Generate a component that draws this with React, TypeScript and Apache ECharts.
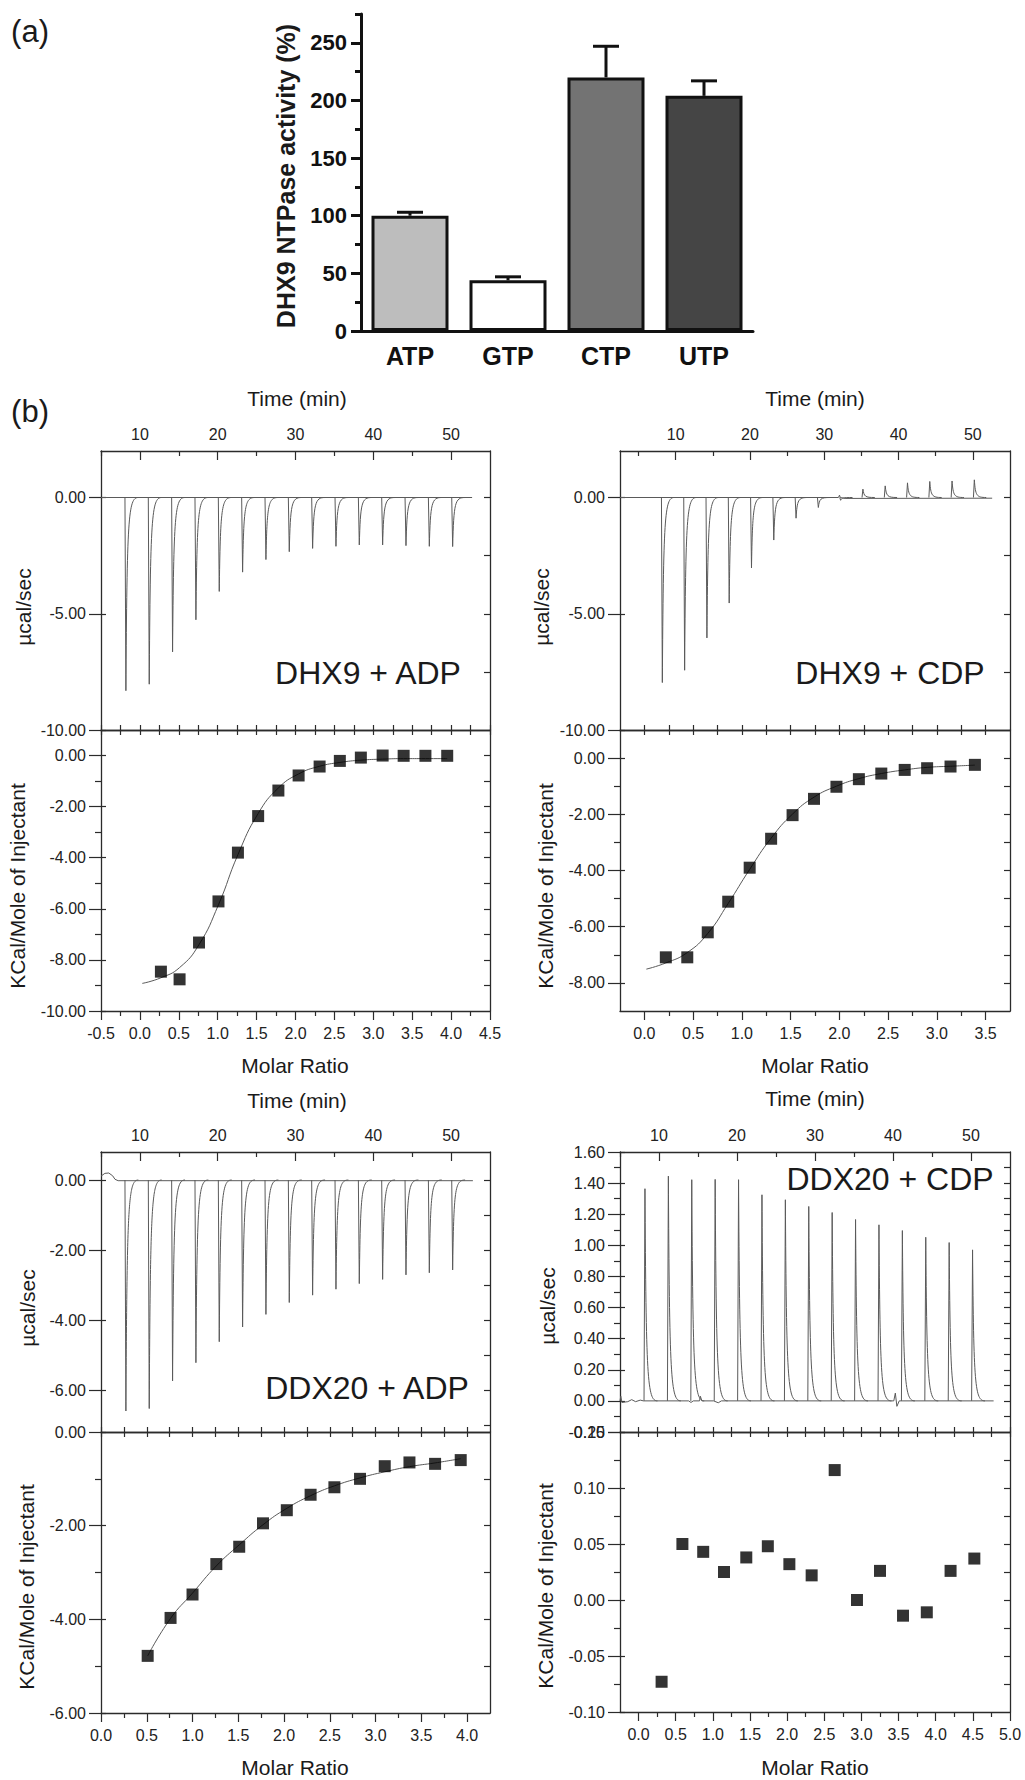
import React, { useEffect, useRef } from 'react';
import * as echarts from 'echarts';

// ---------- (a) DHX9 NTPase activity ----------
const ntpCategories = ['ATP', 'GTP', 'CTP', 'UTP'];
const ntpActivity = [100, 44, 220, 204];
const ntpErrorTop = [103, 47, 247, 217];
const ntpTickLabels = [0, 50, 100, 150, 200, 250];
const ntpMinorTicks = [25, 75, 125, 175, 225, 275];
const ntpBarColors = ['#bdbdbd', '#ffffff', '#737373', '#454545'];

// ---------- (b) ITC ----------
const injectionTimes = [8.2, 11.2, 14.2, 17.2, 20.2, 23.2, 26.2, 29.2, 32.2, 35.2, 38.2, 41.2, 44.2, 47.2, 50.2];
const timeTickLabels = [10, 20, 30, 40, 50];
const timeMinorTicks = [5, 15, 25, 35, 45];

// DHX9 + ADP
const dhx9AdpPeaks = [-8.31, -8.03, -6.64, -5.26, -4.04, -3.21, -2.67, -2.33, -2.19, -2.1, -2.04, -2.04, -2.07, -2.1, -2.11];
const dhx9AdpBaseline = [[5, 0], [52.7, 0]];
const dhx9AdpRatio = [0.27, 0.51, 0.76, 1.01, 1.26, 1.52, 1.78, 2.04, 2.31, 2.57, 2.84, 3.12, 3.39, 3.67, 3.95];
const dhx9AdpHeat = [-8.46, -8.76, -7.32, -5.71, -3.8, -2.37, -1.37, -0.78, -0.43, -0.21, -0.08, 0.0, -0.01, -0.01, -0.01];
const dhx9AdpFitRatio = [0.03, 0.27, 0.51, 0.76, 1.01, 1.26, 1.52, 1.78, 2.04, 2.31, 2.57, 2.84, 3.12, 3.39, 3.67, 3.95];
const dhx9AdpFitHeat = [-8.92, -8.7, -8.3, -7.4, -5.84, -3.88, -2.27, -1.27, -0.72, -0.42, -0.27, -0.18, -0.14, -0.12, -0.12, -0.12];
const dhx9AdpRatioLabels = [-0.5, 0, 0.5, 1, 1.5, 2, 2.5, 3, 3.5, 4, 4.5];
const dhx9AdpRatioMinor = [-0.25, 0.25, 0.75, 1.25, 1.75, 2.25, 2.75, 3.25, 3.75, 4.25];
const dhx9AdpUpperLabels = [0, -5, -10];
const dhx9AdpUpperRight = [0, -2.5, -5, -7.5];
const dhx9AdpLowerLabels = [0, -2, -4, -6, -8, -10];
const dhx9AdpLowerMinor = [-1, -3, -5, -7, -9];
const dhx9AdpLowerRight = [0, -1, -2, -3, -4, -5, -6, -7, -8, -9];

// DHX9 + CDP
const dhx9CdpPeaks = [-7.96, -7.43, -6.04, -4.54, -3.03, -1.83, -0.89, -0.43, -0.12, 0.36, 0.5, 0.63, 0.69, 0.71, 0.76];
const dhx9CdpBaseline = [[2.5, 0], [31.9, 0], [32.05, 0.1], [32.15, 0], [32.8, -0.04], [52.6, -0.03]];
const dhx9CdpRatio = [0.22, 0.44, 0.65, 0.86, 1.08, 1.3, 1.52, 1.74, 1.97, 2.2, 2.43, 2.67, 2.9, 3.14, 3.39];
const dhx9CdpHeat = [-7.09, -7.09, -6.2, -5.11, -3.9, -2.87, -2.03, -1.45, -1.02, -0.75, -0.55, -0.42, -0.36, -0.3, -0.24];
const dhx9CdpFitRatio = [0.02, 0.22, 0.44, 0.65, 0.86, 1.08, 1.3, 1.52, 1.74, 1.97, 2.2, 2.43, 2.67, 2.9, 3.14, 3.39];
const dhx9CdpFitHeat = [-7.51, -7.29, -6.92, -6.24, -5.17, -3.96, -2.85, -1.99, -1.39, -1.0, -0.73, -0.55, -0.42, -0.33, -0.29, -0.25];
const dhx9CdpRatioLabels = [0, 0.5, 1, 1.5, 2, 2.5, 3, 3.5];
const dhx9CdpRatioMinor = [0.25, 0.75, 1.25, 1.75, 2.25, 2.75, 3.25];
const dhx9CdpUpperLabels = [0, -5, -10];
const dhx9CdpUpperRight = [0, -2.5, -5, -7.5];
const dhx9CdpLowerLabels = [0, -2, -4, -6, -8];
const dhx9CdpLowerMinor = [-1, -3, -5, -7];
const dhx9CdpLowerRight = [0, -1, -2, -3, -4, -5, -6, -7, -8];

// DDX20 + ADP
const ddx20AdpPeaks = [-6.6, -6.53, -5.74, -5.22, -4.62, -4.2, -3.84, -3.5, -3.29, -3.12, -2.96, -2.84, -2.71, -2.65, -2.57];
const ddx20AdpBaseline = [[5, 0.11], [5.5, 0.19], [6.0, 0.2], [6.5, 0.12], [6.8, 0.02], [7.2, -0.02], [52.8, -0.02]];
const ddx20AdpRatio = [0.51, 0.76, 1.0, 1.26, 1.51, 1.77, 2.03, 2.29, 2.55, 2.83, 3.1, 3.37, 3.65, 3.93];
const ddx20AdpHeat = [-4.78, -3.97, -3.47, -2.82, -2.45, -1.95, -1.67, -1.34, -1.18, -1.0, -0.73, -0.65, -0.68, -0.6];
const ddx20AdpFitRatio = [0.51, 0.76, 1.0, 1.26, 1.51, 1.77, 2.03, 2.29, 2.55, 2.83, 3.1, 3.37, 3.65, 3.93];
const ddx20AdpFitHeat = [-4.78, -3.98, -3.44, -2.86, -2.41, -1.98, -1.63, -1.36, -1.15, -0.98, -0.85, -0.74, -0.66, -0.57];
const ddx20AdpRatioLabels = [0, 0.5, 1, 1.5, 2, 2.5, 3, 3.5, 4];
const ddx20AdpRatioMinor = [0.25, 0.75, 1.25, 1.75, 2.25, 2.75, 3.25, 3.75];
const ddx20AdpUpperLabels = [0, -2, -4, -6];
const ddx20AdpUpperRight = [0, -1, -2, -3, -4, -5, -6, -7];
const ddx20AdpLowerLabels = [0, -2, -4, -6];
const ddx20AdpLowerMinor = [-1, -3, -5];
const ddx20AdpLowerRight = [-1, -2, -3, -4, -5];

// DDX20 + CDP
const ddx20CdpPeaks = [1.364, 1.445, 1.422, 1.424, 1.422, 1.325, 1.293, 1.25, 1.211, 1.166, 1.132, 1.095, 1.052, 1.018, 0.971];
const ddx20CdpBaseline = [
  [5.0, 0], [5.1, 0.03], [5.25, -0.01], [6.0, -0.005], [6.5, 0.008], [7.0, -0.005], [7.6, 0.005], [8.0, 0],
  [13.8, 0], [14.1, -0.01], [14.4, 0], [15.2, 0], [15.3, 0.03], [15.5, 0], [17.0, 0], [17.6, -0.012], [18.0, 0],
  [40.1, 0], [40.3, 0.05], [40.5, -0.035], [40.8, 0], [52.9, 0],
];
const ddx20CdpRatio = [0.31, 0.59, 0.87, 1.15, 1.45, 1.74, 2.03, 2.33, 2.64, 2.94, 3.25, 3.56, 3.88, 4.2, 4.52];
const ddx20CdpHeat = [-0.073, 0.05, 0.043, 0.025, 0.038, 0.048, 0.032, 0.022, 0.116, 0.0, 0.026, -0.014, -0.011, 0.026, 0.037];
const ddx20CdpRatioLabels = [0, 0.5, 1, 1.5, 2, 2.5, 3, 3.5, 4, 4.5, 5];
const ddx20CdpRatioMinor = [0.25, 0.75, 1.25, 1.75, 2.25, 2.75, 3.25, 3.75, 4.25, 4.75];
const ddx20CdpUpperLabels = [-0.2, 0, 0.2, 0.4, 0.6, 0.8, 1.0, 1.2, 1.4, 1.6];
const ddx20CdpUpperMinor = [-0.1, 0.1, 0.3, 0.5, 0.7, 0.9, 1.1, 1.3, 1.5];
const ddx20CdpUpperRight = [-0.1, 0, 0.1, 0.2, 0.3, 0.4, 0.5, 0.6, 0.7, 0.8, 0.9, 1.0, 1.1, 1.2, 1.3, 1.4, 1.5];
const ddx20CdpLowerLabels = [-0.1, -0.05, 0, 0.05, 0.1, 0.15];
const ddx20CdpLowerMinor = [-0.075, -0.025, 0.025, 0.075, 0.125];
const ddx20CdpLowerRight = [-0.075, -0.05, -0.025, 0, 0.025, 0.05, 0.075, 0.1, 0.125];

// ---------- styling ----------
const FONT = "'Liberation Sans', Arial, Helvetica, sans-serif";
const FRAME = '#2b2b2b';
const TRACE = '#5a5a5a';
const TXT = '#1a1a1a';
const TICK_FONT = 16;

function valAxis(
  gridIndex: number,
  position: string,
  ext: number[],
  ticks: number[],
  tickLen: number,
  inside: boolean,
  label?: { values: number[]; fmt: (v: number) => string; margin: number },
  showLine = true
) {
  return {
    type: 'value',
    gridIndex,
    position,
    min: ext[0],
    max: ext[1],
    axisLine: { show: showLine, onZero: false, lineStyle: { color: FRAME, width: 1.3 } },
    axisTick: {
      show: ticks.length > 0,
      customValues: ticks,
      length: tickLen,
      inside,
      lineStyle: { color: FRAME, width: 1.2 },
    },
    axisLabel: label
      ? {
          show: true,
          customValues: label.values,
          formatter: label.fmt,
          margin: label.margin,
          fontFamily: FONT,
          fontSize: TICK_FONT,
          color: '#222',
        }
      : { show: false },
    splitLine: { show: false },
  };
}

function peakRenderer(_params: any, api: any) {
  const t = api.value(0);
  const d = api.value(1);
  const a = api.coord([t - 0.12, 0]);
  const b = api.coord([t, d]);
  const c1 = api.coord([t + 0.15, d * 0.1]);
  const c2 = api.coord([t + 0.3, 0]);
  const e = api.coord([t + 1.6, 0]);
  const style = { stroke: TRACE, lineWidth: 1, fill: 'none' };
  return {
    type: 'group',
    children: [
      { type: 'line', shape: { x1: a[0], y1: a[1], x2: b[0], y2: b[1] }, style },
      {
        type: 'bezierCurve',
        shape: { x1: b[0], y1: b[1], cpx1: c1[0], cpy1: c1[1], cpx2: c2[0], cpy2: c2[1], x2: e[0], y2: e[1] },
        style,
      },
    ],
  };
}

interface PanelSpec {
  left: number;
  width: number;
  upperTop: number;
  upperH: number;
  lowerTop: number;
  lowerH: number;
  time: number[];
  upperY: number[];
  upperLabels: number[];
  upperMinor: number[];
  upperRight: number[];
  ratio: number[];
  ratioLabels: number[];
  ratioMinor: number[];
  lowerY: number[];
  lowerLabels: number[];
  lowerMinor: number[];
  lowerRight: number[];
  baseline: number[][];
  peaks: number[];
  ratioPts: number[];
  heat: number[];
  fitRatio?: number[];
  fitHeat?: number[];
}

function buildOption() {
  const grid: any[] = [];
  const xAxis: any[] = [];
  const yAxis: any[] = [];
  const series: any[] = [];
  const graphic: any[] = [];

  // ----- bar chart -----
  grid.push({ left: 361, top: 14, width: 392, height: 317 });
  xAxis.push({
    type: 'category',
    gridIndex: 0,
    position: 'bottom',
    data: ntpCategories,
    axisLine: { lineStyle: { color: '#111', width: 3 } },
    axisTick: { alignWithLabel: true, length: 8, lineStyle: { color: '#111', width: 3 } },
    axisLabel: { fontFamily: FONT, fontWeight: 'bold', fontSize: 25, color: '#111', margin: 12 },
  });
  yAxis.push({
    type: 'value',
    gridIndex: 0,
    position: 'left',
    min: 0,
    max: 275,
    axisLine: { show: true, onZero: false, lineStyle: { color: '#111', width: 3 } },
    axisTick: { show: true, customValues: ntpTickLabels, length: 10, lineStyle: { color: '#111', width: 3 } },
    axisLabel: {
      customValues: ntpTickLabels,
      fontFamily: FONT,
      fontWeight: 'bold',
      fontSize: 22,
      color: '#111',
      margin: 14,
    },
    splitLine: { show: false },
  });
  yAxis.push({
    type: 'value',
    gridIndex: 0,
    position: 'left',
    min: 0,
    max: 275,
    axisLine: { show: false, onZero: false },
    axisTick: { show: true, customValues: ntpMinorTicks, length: 6, lineStyle: { color: '#111', width: 3 } },
    axisLabel: { show: false },
    splitLine: { show: false },
  });
  series.push({
    type: 'bar',
    xAxisIndex: 0,
    yAxisIndex: 0,
    barWidth: 77,
    data: ntpActivity.map((v, i) => ({ value: v, itemStyle: { color: ntpBarColors[i] } })),
    itemStyle: { borderColor: '#111', borderWidth: 3 },
    z: 3,
    silent: true,
  });
  series.push({
    type: 'custom',
    xAxisIndex: 0,
    yAxisIndex: 0,
    z: 2,
    silent: true,
    data: ntpCategories.map((_c, i) => [i, ntpActivity[i], ntpErrorTop[i]]),
    encode: { x: 0, y: [1, 2] },
    renderItem: (_p: any, api: any) => {
      const base = api.coord([api.value(0), api.value(1)]);
      const top = api.coord([api.value(0), api.value(2)]);
      const hw = 13;
      const st = { stroke: '#111', lineWidth: 3 };
      return {
        type: 'group',
        children: [
          { type: 'line', shape: { x1: base[0], y1: base[1], x2: top[0], y2: top[1] }, style: st },
          { type: 'line', shape: { x1: top[0] - hw, y1: top[1], x2: top[0] + hw, y2: top[1] }, style: st },
        ],
      };
    },
  });

  const fmt2 = (v: number) => v.toFixed(2);
  const fmt1 = (v: number) => v.toFixed(1);
  const fmt0 = (v: number) => String(v);

  function addPanel(s: PanelSpec) {
    const gu = grid.length;
    grid.push({ left: s.left, top: s.upperTop, width: s.width, height: s.upperH });
    const gl = grid.length;
    grid.push({ left: s.left, top: s.lowerTop, width: s.width, height: s.lowerH });
    const mirrorTicks = [...s.ratioLabels, ...s.ratioMinor];

    // upper panel axes
    const xTime = xAxis.length;
    xAxis.push(valAxis(gu, 'top', s.time, timeTickLabels, 9, true, { values: timeTickLabels, fmt: fmt0, margin: 9 }));
    xAxis.push(valAxis(gu, 'top', s.time, timeMinorTicks, 5, true, undefined, false));
    xAxis.push(valAxis(gu, 'bottom', s.ratio, mirrorTicks, 5, true));

    const yUp = yAxis.length;
    yAxis.push(valAxis(gu, 'left', s.upperY, s.upperLabels, 12, false, { values: s.upperLabels, fmt: fmt2, margin: 15 }));
    yAxis.push(valAxis(gu, 'left', s.upperY, s.upperLabels, 5, true, undefined, false));
    yAxis.push(valAxis(gu, 'left', s.upperY, s.upperMinor, 6, false, undefined, false));
    yAxis.push(valAxis(gu, 'right', s.upperY, s.upperRight, 6, true));

    // lower panel axes
    const xRatio = xAxis.length;
    xAxis.push(valAxis(gl, 'bottom', s.ratio, s.ratioLabels, 9, false, { values: s.ratioLabels, fmt: fmt1, margin: 14 }));
    xAxis.push(valAxis(gl, 'bottom', s.ratio, s.ratioMinor, 5, false, undefined, false));
    xAxis.push(valAxis(gl, 'top', s.ratio, mirrorTicks, 5, true));

    const yLow = yAxis.length;
    yAxis.push(valAxis(gl, 'left', s.lowerY, s.lowerLabels, 12, false, { values: s.lowerLabels, fmt: fmt2, margin: 15 }));
    yAxis.push(valAxis(gl, 'left', s.lowerY, s.lowerLabels, 5, true, undefined, false));
    yAxis.push(valAxis(gl, 'left', s.lowerY, s.lowerMinor, 6, false, undefined, false));
    yAxis.push(valAxis(gl, 'right', s.lowerY, s.lowerRight, 6, true));

    series.push({
      type: 'line',
      xAxisIndex: xTime,
      yAxisIndex: yUp,
      data: s.baseline,
      showSymbol: false,
      symbol: 'none',
      lineStyle: { color: TRACE, width: 1 },
      silent: true,
      clip: true,
    });
    series.push({
      type: 'custom',
      xAxisIndex: xTime,
      yAxisIndex: yUp,
      data: injectionTimes.map((t, i) => [t, s.peaks[i]]),
      encode: { x: 0, y: 1 },
      renderItem: peakRenderer,
      clip: true,
      silent: true,
    });
    if (s.fitRatio && s.fitHeat) {
      const fh = s.fitHeat;
      series.push({
        type: 'line',
        xAxisIndex: xRatio,
        yAxisIndex: yLow,
        data: s.fitRatio.map((x, i) => [x, fh[i]]),
        smooth: 0.5,
        showSymbol: false,
        symbol: 'none',
        lineStyle: { color: TRACE, width: 1 },
        silent: true,
        z: 2,
      });
    }
    series.push({
      type: 'scatter',
      xAxisIndex: xRatio,
      yAxisIndex: yLow,
      data: s.ratioPts.map((x, i) => [x, s.heat[i]]),
      symbol: 'rect',
      symbolSize: 12,
      itemStyle: { color: '#000' },
      silent: true,
      z: 3,
    });
  }

  addPanel({
    left: 101, width: 389, upperTop: 451, upperH: 279, lowerTop: 730, lowerH: 281,
    time: [5, 55], upperY: [-10, 2], upperLabels: dhx9AdpUpperLabels, upperMinor: [], upperRight: dhx9AdpUpperRight,
    ratio: [-0.5, 4.5], ratioLabels: dhx9AdpRatioLabels, ratioMinor: dhx9AdpRatioMinor,
    lowerY: [-10, 1], lowerLabels: dhx9AdpLowerLabels, lowerMinor: dhx9AdpLowerMinor, lowerRight: dhx9AdpLowerRight,
    baseline: dhx9AdpBaseline, peaks: dhx9AdpPeaks, ratioPts: dhx9AdpRatio, heat: dhx9AdpHeat,
    fitRatio: dhx9AdpFitRatio, fitHeat: dhx9AdpFitHeat,
  });
  addPanel({
    left: 620, width: 390, upperTop: 451, upperH: 279, lowerTop: 730, lowerH: 281,
    time: [2.5, 55], upperY: [-10, 2], upperLabels: dhx9CdpUpperLabels, upperMinor: [], upperRight: dhx9CdpUpperRight,
    ratio: [-0.25, 3.75], ratioLabels: dhx9CdpRatioLabels, ratioMinor: dhx9CdpRatioMinor,
    lowerY: [-9, 1], lowerLabels: dhx9CdpLowerLabels, lowerMinor: dhx9CdpLowerMinor, lowerRight: dhx9CdpLowerRight,
    baseline: dhx9CdpBaseline, peaks: dhx9CdpPeaks, ratioPts: dhx9CdpRatio, heat: dhx9CdpHeat,
    fitRatio: dhx9CdpFitRatio, fitHeat: dhx9CdpFitHeat,
  });
  addPanel({
    left: 101, width: 389, upperTop: 1152, upperH: 280, lowerTop: 1432, lowerH: 281,
    time: [5, 55], upperY: [-7.2, 0.8], upperLabels: ddx20AdpUpperLabels, upperMinor: [], upperRight: ddx20AdpUpperRight,
    ratio: [0, 4.25], ratioLabels: ddx20AdpRatioLabels, ratioMinor: ddx20AdpRatioMinor,
    lowerY: [-6, 0], lowerLabels: ddx20AdpLowerLabels, lowerMinor: ddx20AdpLowerMinor, lowerRight: ddx20AdpLowerRight,
    baseline: ddx20AdpBaseline, peaks: ddx20AdpPeaks, ratioPts: ddx20AdpRatio, heat: ddx20AdpHeat,
    fitRatio: ddx20AdpFitRatio, fitHeat: ddx20AdpFitHeat,
  });
  addPanel({
    left: 620, width: 390, upperTop: 1152, upperH: 280, lowerTop: 1432, lowerH: 280,
    time: [5, 55], upperY: [-0.2, 1.6], upperLabels: ddx20CdpUpperLabels, upperMinor: ddx20CdpUpperMinor, upperRight: ddx20CdpUpperRight,
    ratio: [-0.25, 5.0], ratioLabels: ddx20CdpRatioLabels, ratioMinor: ddx20CdpRatioMinor,
    lowerY: [-0.1, 0.15], lowerLabels: ddx20CdpLowerLabels, lowerMinor: ddx20CdpLowerMinor, lowerRight: ddx20CdpLowerRight,
    baseline: ddx20CdpBaseline, peaks: ddx20CdpPeaks, ratioPts: ddx20CdpRatio, heat: ddx20CdpHeat,
  });

  const txt = (text: string, x: number, y: number, size: number, opts: any = {}) => ({
    type: 'text',
    x,
    y,
    rotation: opts.rot ? Math.PI / 2 : 0,
    silent: true,
    style: {
      text,
      fontFamily: FONT,
      fontSize: size,
      fontWeight: opts.bold ? 'bold' : 'normal',
      fill: TXT,
      align: 'center',
      verticalAlign: 'middle',
    },
  });

  graphic.push(txt('(a)', 30, 31, 31));
  graphic.push(txt('(b)', 30, 411, 31));
  graphic.push(txt('DHX9 NTPase activity (%)', 286, 176, 25, { rot: true, bold: true }));

  const panelTexts = [
    { title: 'DHX9 + ADP', tx: 368, ty: 673, timeX: 297, timeY: 398, ux: 23, uy: 607, kx: 17, ky: 886, mx: 295, my: 1065 },
    { title: 'DHX9 + CDP', tx: 890, ty: 673, timeX: 815, timeY: 398, ux: 541, uy: 607, kx: 545, ky: 886, mx: 815, my: 1065 },
    { title: 'DDX20 + ADP', tx: 367, ty: 1388, timeX: 297, timeY: 1100, ux: 27, uy: 1308, kx: 26, ky: 1587, mx: 295, my: 1767 },
    { title: 'DDX20 + CDP', tx: 890, ty: 1179, timeX: 815, timeY: 1098, ux: 547, uy: 1306, kx: 545, ky: 1586, mx: 815, my: 1767 },
  ];
  panelTexts.forEach((p) => {
    graphic.push(txt(p.title, p.tx, p.ty, 32));
    graphic.push(txt('Time (min)', p.timeX, p.timeY, 21));
    graphic.push(txt('µcal/sec', p.ux, p.uy, 21, { rot: true }));
    graphic.push(txt('KCal/Mole of Injectant', p.kx, p.ky, 21, { rot: true }));
    graphic.push(txt('Molar Ratio', p.mx, p.my, 21));
  });

  return {
    animation: false,
    backgroundColor: '#ffffff',
    grid,
    xAxis,
    yAxis,
    series,
    graphic,
  };
}

export default function App() {
  const ref = useRef<HTMLDivElement>(null);
  useEffect(() => {
    if (!ref.current) return;
    const chart = echarts.init(ref.current, undefined, { renderer: 'svg' });
    chart.setOption(buildOption() as any);
    return () => {
      chart.dispose();
    };
  }, []);
  return (
    <div
      ref={ref}
      style={{ position: 'absolute', left: 0, top: 0, width: 1025, height: 1780, background: '#fff' }}
    />
  );
}
